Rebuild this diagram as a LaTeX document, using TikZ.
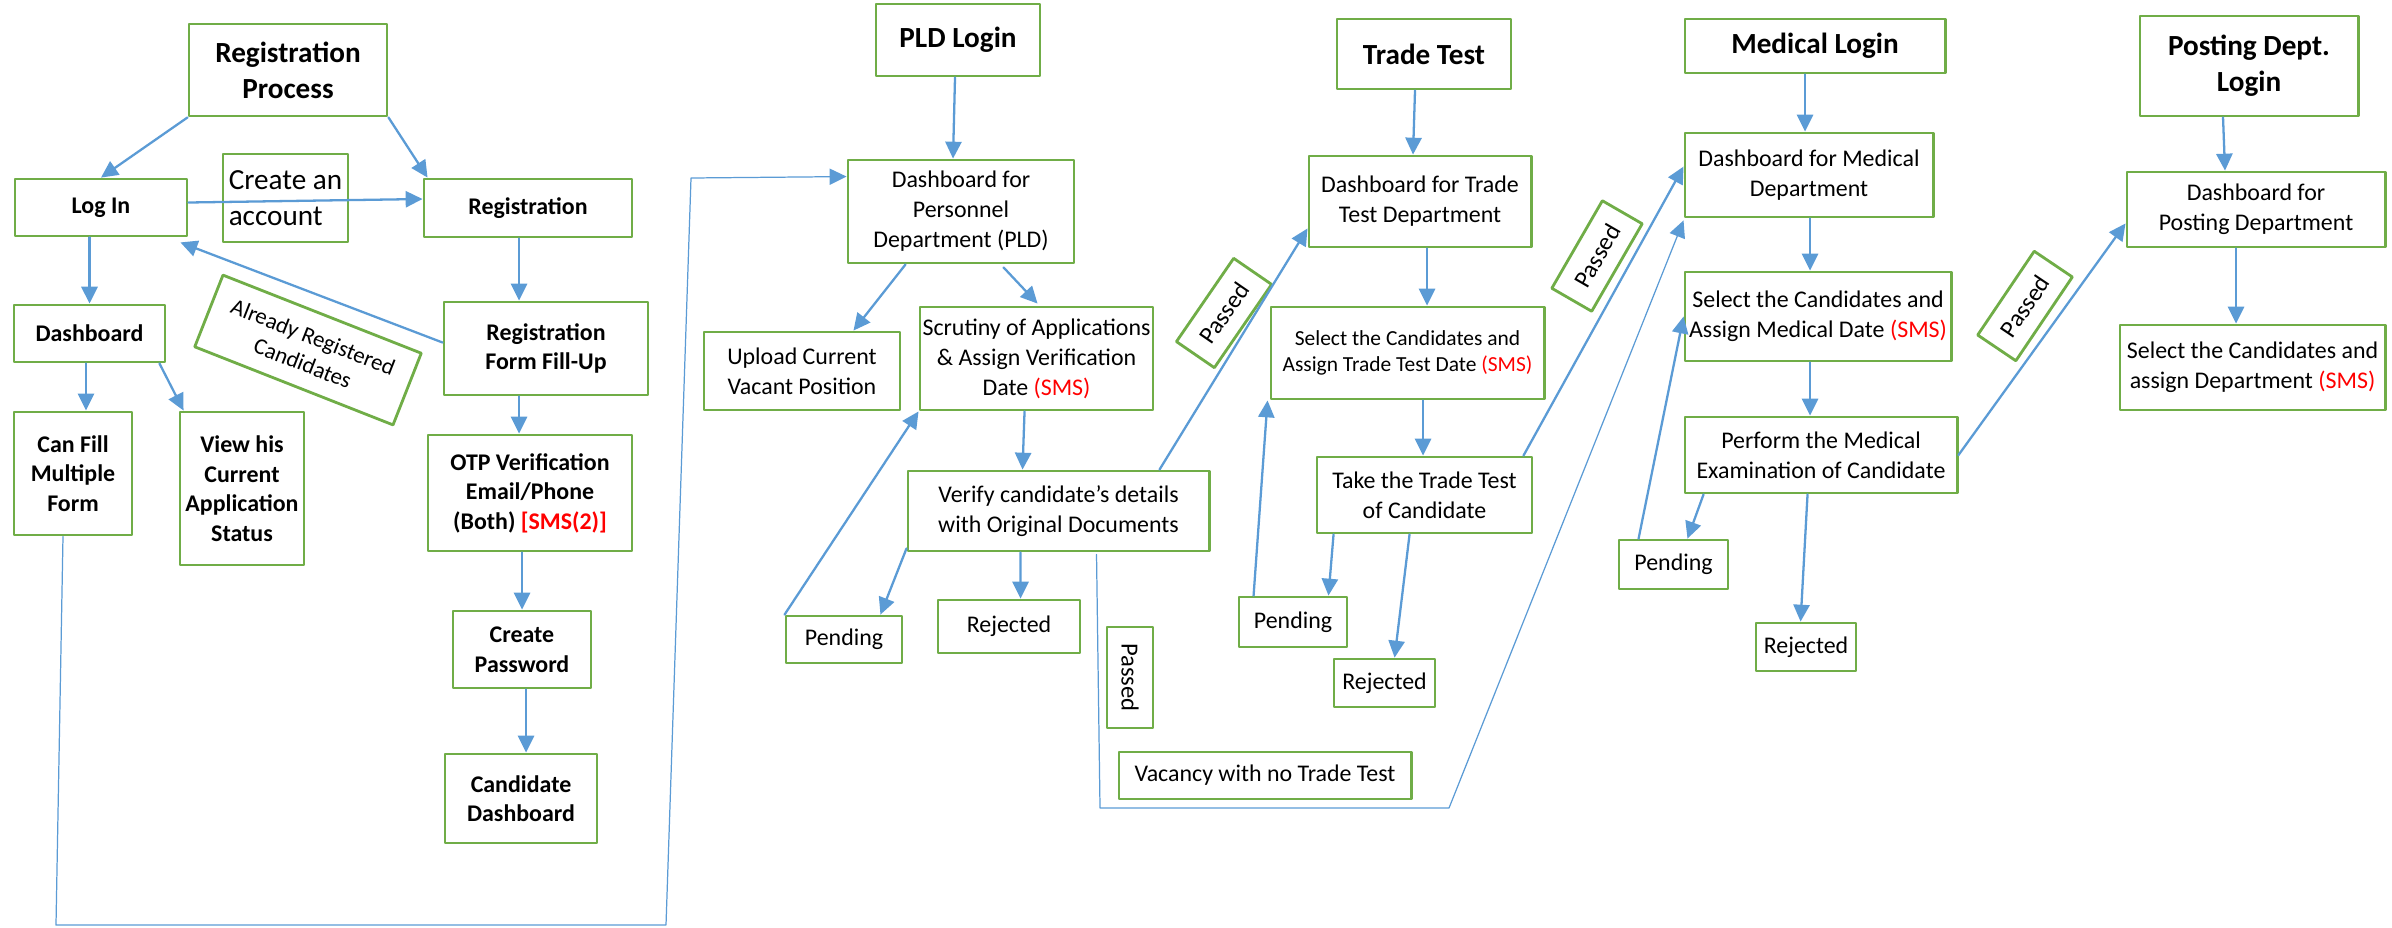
\documentclass[tikz,border=0pt]{standalone}
\usepackage{fontspec}
\setmainfont{Carlito}
\usetikzlibrary{calc,arrows.meta}
\definecolor{boxgreen}{HTML}{70AD47}
\definecolor{lineblue}{HTML}{5B9BD5}
\definecolor{smsred}{HTML}{FF0000}

\begin{document}
\begin{tikzpicture}[x=0.01cm, y=-0.01cm, line cap=round, line join=round,
    box/.style={draw=boxgreen, line width=0.8pt, fill=white, align=center, inner sep=0.5pt},
    head/.style={box, font=\fontsize{8.3}{10.3}\selectfont\bfseries},
    strong/.style={box, font=\fontsize{6.8}{8.4}\selectfont\bfseries},
    note/.style={box, font=\fontsize{6.8}{8.5}\selectfont},
    small/.style={box, font=\fontsize{6.1}{7.6}\selectfont},
    passbox/.style={box, font=\fontsize{7}{8}\selectfont, minimum width=1.01cm, minimum height=0.46cm},
    link/.style={draw=lineblue, line width=0.65pt, -{Triangle[length=4.8pt,width=4.6pt]}},
    wire/.style={draw=lineblue, line width=0.35pt}]
    \useasboundingbox (0,0) rectangle (2392,927);

    \node[head, minimum width=1.98cm, minimum height=0.92cm] (rp) at (288,70) {Registration\\Process};
    \node[strong, minimum width=1.72cm, minimum height=0.57cm] (login) at (101,207.5) {Log In};
    \node[box, align=left, font=\fontsize{8.3}{10.3}\selectfont, minimum width=1.25cm, minimum height=0.88cm] (acct) at (285.5,198) {Create an\\account};
    \node[strong, minimum width=2.08cm, minimum height=0.58cm] (reg) at (528,208) {Registration};
    \node[strong, minimum width=1.51cm, minimum height=0.57cm] (dash) at (89.5,333.5) {Dashboard};
    \node[box, font=\fontsize{6.5}{8}\selectfont, minimum width=2.13cm, minimum height=0.77cm, rotate=-21.5] (already) at (308,350) {Already Registered\\Candidates};
    \node[strong, minimum width=2.04cm, minimum height=0.93cm] (regform) at (546,348.5) {Registration\\Form Fill-Up};
    \node[strong, minimum width=1.18cm, minimum height=1.23cm] (canfill) at (73,473.5) {Can Fill\\Multiple\\Form};
    \node[strong, minimum width=1.24cm, minimum height=1.53cm] (viewhis) at (242,488.5) {View his\\Current\\Application\\Status};
    \node[strong, minimum width=2.04cm, minimum height=1.16cm] (otp) at (530,493) {OTP Verification\\Email/Phone\\(Both) \textcolor{smsred}{[SMS(2)]}};
    \node[strong, minimum width=1.38cm, minimum height=0.77cm] (pwd) at (522,649.5) {Create\\Password};
    \node[strong, minimum width=1.52cm, minimum height=0.89cm] (canddash) at (521,798.5) {Candidate\\Dashboard};

    \node[head, minimum width=1.64cm, minimum height=0.72cm] (pld) at (958,40) {PLD Login};
    \node[note, minimum width=2.26cm, minimum height=1.03cm] (plddash) at (961,211.5) {Dashboard for\\Personnel\\Department (PLD)};
    \node[note, minimum width=1.96cm, minimum height=0.78cm] (upload) at (802,371) {Upload Current\\Vacant Position};
    \node[note, minimum width=2.33cm, minimum height=1.03cm] (scrut) at (1036.5,358.5) {Scrutiny of Applications\\\& Assign Verification\\Date \textcolor{smsred}{(SMS)}};
    \node[note, minimum width=3.01cm, minimum height=0.80cm] (verify) at (1058.5,511) {Verify candidate’s details\\with Original Documents};
    \node[note, minimum width=1.16cm, minimum height=0.47cm] (pend1) at (844,639.5) {Pending};
    \node[note, minimum width=1.42cm, minimum height=0.53cm] (rej1) at (1009,626.5) {Rejected};
    \node[passbox, rotate=-90] (passv) at (1130,677.5) {Passed};
    \node[passbox, rotate=55.5] (passa) at (1224,313) {Passed};
    \node[note, minimum width=2.92cm, minimum height=0.47cm] (vacancy) at (1265,775.5) {Vacancy with no Trade Test};

    \node[head, minimum width=1.74cm, minimum height=0.70cm] (tt) at (1424,54) {Trade Test};
    \node[note, minimum width=2.22cm, minimum height=0.91cm] (ttdash) at (1420,201.5) {Dashboard for Trade\\Test Department};
    \node[small, minimum width=2.73cm, minimum height=0.92cm] (ttsel) at (1407.5,353) {Select the Candidates and\\Assign Trade Test Date \textcolor{smsred}{(SMS)}};
    \node[note, minimum width=2.15cm, minimum height=0.76cm] (takett) at (1424.5,495) {Take the Trade Test\\of Candidate};
    \node[note, minimum width=1.08cm, minimum height=0.50cm] (pend2) at (1293,622) {Pending};
    \node[note, minimum width=1.01cm, minimum height=0.48cm] (rej2) at (1384.5,683) {Rejected};
    \node[passbox, rotate=60] (passb) at (1597,256) {Passed};

    \node[head, minimum width=2.60cm, minimum height=0.54cm] (med) at (1815,46) {Medical Login};
    \node[note, minimum width=2.48cm, minimum height=0.84cm] (meddash) at (1809,175) {Dashboard for Medical\\Department};
    \node[note, minimum width=2.66cm, minimum height=0.89cm] (medsel) at (1818,316.5) {Select the Candidates and\\Assign Medical Date \textcolor{smsred}{(SMS)}};
    \node[note, minimum width=2.72cm, minimum height=0.76cm] (perform) at (1821,455) {Perform the Medical\\Examination of Candidate};
    \node[note, minimum width=1.09cm, minimum height=0.49cm] (pend3) at (1673.5,564.5) {Pending};
    \node[note, minimum width=1.00cm, minimum height=0.48cm] (rej3) at (1806,647) {Rejected};
    \node[passbox, rotate=56] (passc) at (2025,306) {Passed};

    \node[head, minimum width=2.18cm, minimum height=1.00cm] (post) at (2249,66) {Posting Dept.\\Login};
    \node[note, minimum width=2.58cm, minimum height=0.75cm] (postdash) at (2256,209.5) {Dashboard for\\Posting Department};
    \node[note, minimum width=2.65cm, minimum height=0.85cm] (postsel) at (2252.5,367.5) {Select the Candidates and\\assign Department \textcolor{smsred}{(SMS)}};

    \coordinate (w1) at (56,925);
    \coordinate (w2) at (666,925);
    \coordinate (w3) at (691,178);
    \coordinate (v1) at (1100,808);
    \coordinate (v2) at (1449,808);

    \draw[link] (rp.south west) -- (login.north);
    \draw[link] (rp.south east) -- ($(reg.north west)+(5,0)$);
    \draw[link] ($(login.east)+(0,-5)$) -- ($(reg.west)+(0,-9)$);
    \draw[link] ($(regform.west)+(0,-6)$) -- ($(login.south east)+(-8,5)$);
    \draw[link] (login.south -| dash) -- (dash.north);
    \draw[link] ($(reg.south)+(-9,0)$) -- ($(regform.north)+(-27,0)$);
    \draw[link] ($(dash.south)+(-3.5,0)$) -- ($(canfill.north)+(13,0)$);
    \draw[link] ($(dash.south east)+(-7,0)$) -- ($(viewhis.north west)+(5,0)$);
    \draw[link] ($(regform.south)+(-27,0)$) -- ($(otp.north)+(-11,0)$);
    \draw[link] ($(otp.south)+(-8,0)$) -- (pwd.north);
    \draw[link] ($(pwd.south)+(4,0)$) -- ($(canddash.north)+(5,0)$);
    \draw[wire, -{Triangle[length=4.8pt,width=4.6pt]}] ($(canfill.south)+(-10,0)$) -- (w1) -- (w2) -- (w3) -- ($(plddash.north west)+(0,18)$);

    \draw[link] ($(pld.south)+(-3,0)$) -- ($(plddash.north)+(-8,0)$);
    \draw[link] ($(plddash.south west)+(59,0)$) -- ($(upload.north east)+(-48,0)$);
    \draw[link] ($(plddash.south west)+(157,3)$) -- ($(scrut.north west)+(119,-2)$);
    \draw[link] ($(scrut.south west)+(106,0)$) -- ($(verify.north west)+(116,0)$);
    \draw[link] ($(verify.south west)+(0,-4)$) -- ($(pend1.north east)+(-23,0)$);
    \draw[link] ($(verify.south west)+(114,0)$) -- ($(rej1.north west)+(84,0)$);
    \draw[link] (pend1.north west) -- (scrut.south west);
    \draw[link] ($(verify.north west)+(253,0)$) -- ($(ttdash.south west)+(0,-20)$);
    \draw[wire, -{Triangle[length=4.8pt,width=4.6pt]}] ($(verify.south west)+(190,2)$) -- (v1) -- (v2) -- ($(meddash.south west)+(0,2)$);

    \draw[link] ($(tt.south)+(-9,0)$) -- ($(ttdash.north)+(-7,0)$);
    \draw[link] ($(ttdash.south)+(7,0)$) -- ($(ttsel.north)+(19.5,0)$);
    \draw[link] ($(ttsel.south)+(15.5,0)$) -- ($(takett.north)+(-1.5,0)$);
    \draw[link] ($(takett.south west)+(18,0)$) -- ($(pend2.north east)+(-20,0)$);
    \draw[link] ($(takett.south west)+(94,0)$) -- ($(rej2.north west)+(62,0)$);
    \draw[link] ($(pend2.north west)+(16,0)$) -- ($(ttsel.south west)+(-2,0)$);
    \draw[link] ($(takett.north east)+(-10,0)$) -- ($(meddash.north west)+(0,35)$);

    \draw[link] ($(med.south)+(-10,0)$) -- ($(meddash.north)+(-4,0)$);
    \draw[link] ($(meddash.south)+(1,0)$) -- ($(medsel.north)+(-8,0)$);
    \draw[link] ($(medsel.south)+(-8,0)$) -- ($(perform.north)+(-11,0)$);
    \draw[link] ($(perform.south west)+(20,0)$) -- ($(pend3.north east)+(-42,0)$);
    \draw[link] ($(perform.south west)+(124,0)$) -- ($(rej3.north west)+(46,0)$);
    \draw[link] ($(pend3.north west)+(21,0)$) -- (medsel.west);
    \draw[link] (perform.east) -- ($(postdash.south west)+(0,-25)$);

    \draw[link] ($(post.south)+(-26,0)$) -- ($(postdash.north)+(-31,0)$);
    \draw[link] ($(postdash.south)+(-20,0)$) -- ($(postsel.north)+(-16.5,0)$);
\end{tikzpicture}
\end{document}
